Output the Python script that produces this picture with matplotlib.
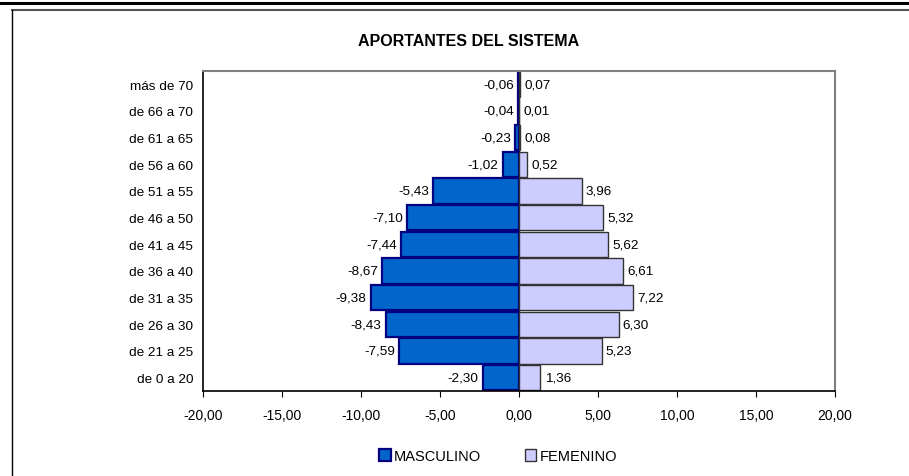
import matplotlib.pyplot as plt
import numpy as np
from matplotlib.lines import Line2D

plt.rcParams["font.family"] = ["Liberation Sans", "DejaVu Sans"]

categorias = ["de 0 a 20", "de 21 a 25", "de 26 a 30", "de 31 a 35", "de 36 a 40",
              "de 41 a 45", "de 46 a 50", "de 51 a 55", "de 56 a 60", "de 61 a 65",
              "de 66 a 70", "más de 70"]
masculino = [-2.30, -7.59, -8.43, -9.38, -8.67, -7.44, -7.10, -5.43, -1.02, -0.23, -0.04, -0.06]
femenino = [1.36, 5.23, 6.30, 7.22, 6.61, 5.62, 5.32, 3.96, 0.52, 0.08, 0.01, 0.07]
xticks = [-20, -15, -10, -5, 0, 5, 10, 15, 20]


def coma(v):
    return f"{v:.2f}".replace(".", ",")


fig = plt.figure(figsize=(9.09, 4.77), dpi=100)
ax = fig.add_axes([203 / 909, 1 - 392 / 477, 632 / 909, 320 / 477])

y = np.arange(len(categorias))
bm = ax.barh(y, masculino, height=0.96, color="#0066CC", edgecolor="#000080",
             linewidth=1.6, label="MASCULINO")
bf = ax.barh(y, femenino, height=0.96, color="#CCCCFF", edgecolor="#333333",
             linewidth=1.0, label="FEMENINO")

for yi, v in zip(y, masculino):
    ax.annotate(coma(v), (v, yi), xytext=(-3, 0), textcoords="offset points",
                ha="right", va="center", fontsize=9.7)
for yi, v in zip(y, femenino):
    ax.annotate(coma(v), (v, yi), xytext=(3, 0), textcoords="offset points",
                ha="left", va="center", fontsize=9.7)

ax.set_xlim(-20, 20)
ax.set_ylim(-0.5, len(categorias) - 0.5)
ax.set_xticks(xticks)
ax.set_xticklabels([coma(t) for t in xticks], fontsize=10)
ax.set_yticks(y)
ax.set_yticklabels(categorias, fontsize=9.7)
ax.tick_params(axis="y", length=0, pad=7)
ax.tick_params(axis="x", length=4, direction="out", pad=8)

for s in ["top", "right"]:
    ax.spines[s].set_color("#808080")
    ax.spines[s].set_linewidth(1.5)
for s in ["left", "bottom"]:
    ax.spines[s].set_color("black")
    ax.spines[s].set_linewidth(1.2)

fig.text(469 / 909, 1 - 41 / 477, "APORTANTES DEL SISTEMA", ha="center", va="center",
         fontsize=11.5, fontweight="bold")

fig.legend(handles=[bm, bf], loc="center", bbox_to_anchor=(498 / 909, 1 - 457 / 477),
           ncol=2, frameon=False, fontsize=10.5, handlelength=0.8, handleheight=0.8,
           handletextpad=0.2, columnspacing=3.0)

# marco exterior
fig.add_artist(Line2D([0, 1], [1 - 4 / 477, 1 - 4 / 477], color="black", linewidth=2.2))
fig.add_artist(Line2D([12 / 909, 1], [1 - 11 / 477, 1 - 11 / 477], color="#555555", linewidth=1.5))
fig.add_artist(Line2D([12 / 909, 12 / 909], [0, 1 - 11 / 477], color="black", linewidth=1.0))

fig.savefig("out.png", dpi=100)
